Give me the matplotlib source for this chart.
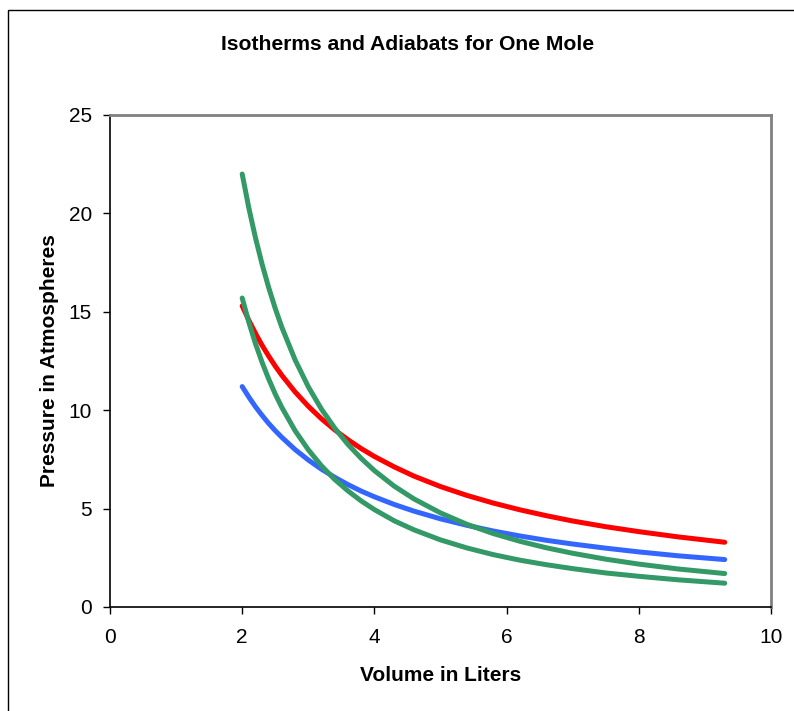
import matplotlib
matplotlib.use("Agg")
import matplotlib.pyplot as plt
from matplotlib.patches import Rectangle

plt.rcParams['font.family'] = ['Liberation Sans', 'DejaVu Sans']

# Volume in liters (x values)
volume = [2.0, 2.1, 2.2, 2.3, 2.4, 2.5, 2.6, 2.8, 3.0, 3.2, 3.4, 3.6, 3.8,
          4.0, 4.3, 4.6, 5.0, 5.4, 5.8, 6.2, 6.6, 7.0, 7.5, 8.0, 8.6, 9.3]

# Isotherms (pressure in atm)
iso_hot = [15.3, 14.57, 13.91, 13.30, 12.75, 12.24, 11.77, 10.93, 10.2, 9.56, 9.0, 8.5, 8.05,
           7.65, 7.12, 6.65, 6.12, 5.67, 5.28, 4.94, 4.64, 4.37, 4.08, 3.83, 3.56, 3.29]
iso_cold = [11.2, 10.67, 10.18, 9.74, 9.33, 8.96, 8.62, 8.0, 7.47, 7.0, 6.59, 6.22, 5.89,
            5.6, 5.21, 4.87, 4.48, 4.15, 3.86, 3.61, 3.39, 3.2, 2.99, 2.8, 2.6, 2.41]

# Adiabats (pressure in atm)
adia_high = [22.0, 20.28, 18.77, 17.43, 16.24, 15.17, 14.21, 12.56, 11.19, 10.05, 9.09, 8.26, 7.55,
             6.93, 6.14, 5.49, 4.78, 4.20, 3.73, 3.34, 3.01, 2.73, 2.43, 2.18, 1.93, 1.70]
adia_low = [15.7, 14.47, 13.39, 12.44, 11.59, 10.82, 10.14, 8.96, 7.99, 7.17, 6.48, 5.90, 5.39,
            4.95, 4.38, 3.92, 3.41, 3.0, 2.66, 2.38, 2.15, 1.95, 1.73, 1.56, 1.38, 1.21]

x_ticks = [0, 2, 4, 6, 8, 10]
y_ticks = [0, 5, 10, 15, 20, 25]

fig = plt.figure(figsize=(7.94, 7.11), dpi=100)
frame = fig.add_axes([110/794, 1-607/711, (771-110)/794, (607-115)/711])

# Chart area border (only top and left visible in the picture)
fig.patches.append(Rectangle((8/794, -0.1), 1.2, 1-10/711+0.1, transform=fig.transFigure,
                             fill=False, edgecolor="black", lw=1.0))

lw = 3.6
frame.plot(volume, iso_hot, color="#FF0000", lw=lw, solid_capstyle="round",
           solid_joinstyle="round", zorder=3)
frame.plot(volume, iso_cold, color="#3366FF", lw=lw, solid_capstyle="round",
           solid_joinstyle="round", zorder=3)
frame.plot(volume, adia_high, color="#339966", lw=lw, solid_capstyle="round",
           solid_joinstyle="round", zorder=4)
frame.plot(volume, adia_low, color="#339966", lw=lw, solid_capstyle="round",
           solid_joinstyle="round", zorder=4)

frame.set_xlim(0, 10)
frame.set_ylim(0, 25)
frame.set_xticks(x_ticks)
frame.set_yticks(y_ticks)
frame.tick_params(axis="both", direction="out", length=5, width=1, labelsize=15,
                  colors="black")
frame.tick_params(axis="x", pad=10)
frame.tick_params(axis="y", pad=8)

for side in ["left", "bottom"]:
    frame.spines[side].set_color("black")
    frame.spines[side].set_linewidth(1.2)
for side in ["top", "right"]:
    frame.spines[side].set_color("#808080")
    frame.spines[side].set_linewidth(2.0)

frame.set_xlabel("Volume in Liters", fontsize=15, fontweight="bold", labelpad=14)
frame.set_ylabel("Pressure in Atmospheres", fontsize=15, fontweight="bold", labelpad=7)

fig.text(408/794, 1-45/711, "Isotherms and Adiabats for One Mole", fontsize=15.2,
         fontweight="bold", ha="center", va="center")

fig.savefig("out.png", dpi=100)
